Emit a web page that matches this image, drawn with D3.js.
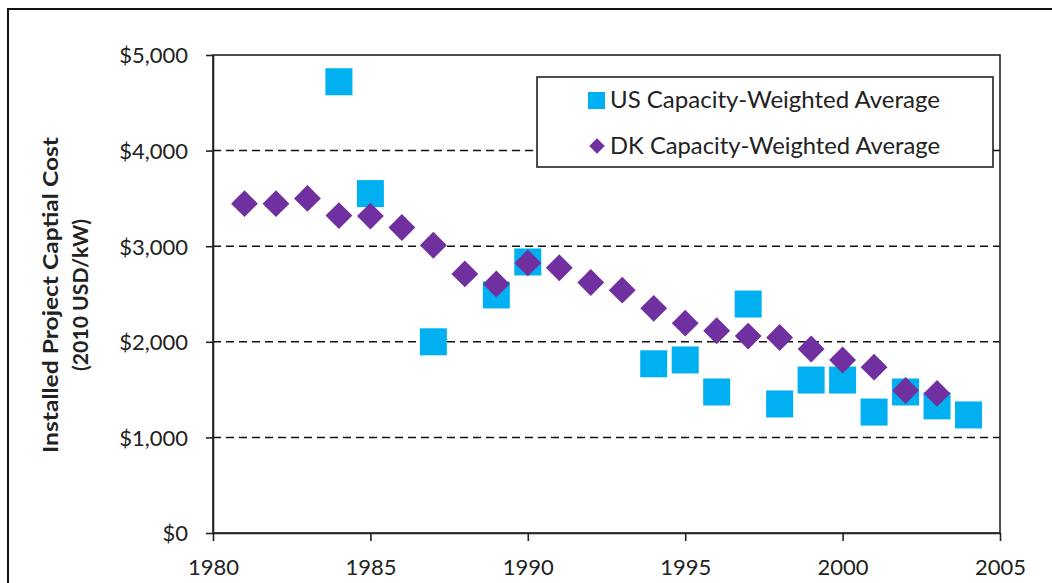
<!DOCTYPE html>
<html>
<head>
<meta charset="utf-8">
<script src="https://cdn.jsdelivr.net/npm/d3@7"></script>
<style>
  body { margin: 0; background: #fff; }
  text { font-family: Lato, "Open Sans", sans-serif; fill: #222; }
</style>
</head>
<body>
<svg width="1052" height="583"></svg>
<script>
// data
var usYears = [1984, 1985, 1987, 1989, 1990, 1994, 1995, 1996, 1997, 1998, 1999, 2000, 2001, 2002, 2003, 2004];
var usCost  = [4720, 3550, 2000, 2490, 2835, 1770, 1810, 1475, 2395, 1350, 1600, 1600, 1265, 1475, 1330, 1235];
var dkYears = [1981, 1982, 1983, 1984, 1985, 1986, 1987, 1988, 1989, 1990, 1991, 1992, 1993, 1994, 1995, 1996, 1997, 1998, 1999, 2000, 2001, 2002, 2003];
var dkCost  = [3445, 3445, 3500, 3320, 3315, 3195, 3010, 2710, 2605, 2825, 2775, 2620, 2540, 2350, 2195, 2115, 2060, 2045, 1925, 1810, 1735, 1490, 1460];
var yTicks = [0, 1000, 2000, 3000, 4000, 5000];
var xTicks = [1980, 1985, 1990, 1995, 2000, 2005];
var legendLabels = ["US Capacity-Weighted Average", "DK Capacity-Weighted Average"];

var usColor = "#00b0f0";
var dkColor = "#7030a0";

var svg = d3.select("svg");

// outer chart border (runs off the right/bottom of the picture)
svg.append("rect")
  .attr("x", 8).attr("y", 9)
  .attr("width", 1100).attr("height", 600)
  .attr("fill", "none").attr("stroke", "#111").attr("stroke-width", 2);

var pLeft = 213, pRight = 1000, pTop = 55, pBottom = 533;

var x = d3.scaleLinear().domain([1980, 2005]).range([pLeft, pRight]);
var y = d3.scaleLinear().domain([0, 5000]).range([pBottom, pTop]);

// dashed gridlines
svg.append("g")
  .selectAll("line")
  .data(yTicks.filter(d => d > 0 && d < 5000))
  .enter().append("line")
  .attr("x1", pLeft).attr("x2", pRight)
  .attr("y1", d => y(d)).attr("y2", d => y(d))
  .attr("stroke", "#111")
  .attr("stroke-width", 1.5)
  .attr("stroke-dasharray", "8,5");

// plot frame
svg.append("rect")
  .attr("x", pLeft).attr("y", pTop)
  .attr("width", pRight - pLeft).attr("height", pBottom - pTop)
  .attr("fill", "none").attr("stroke", "#222").attr("stroke-width", 1.6);

var yAxis = svg.append("g")
  .attr("transform", "translate(" + pLeft + ",0)")
  .call(d3.axisLeft(y).tickValues(yTicks).tickSize(7).tickSizeOuter(0)
    .tickFormat(d => "$" + d3.format(",")(d)));

var xAxis = svg.append("g")
  .attr("transform", "translate(0," + pBottom + ")")
  .call(d3.axisBottom(x).tickValues(xTicks).tickSize(8).tickSizeOuter(0)
    .tickFormat(d3.format("d")));

[xAxis, yAxis].forEach(function(a) {
  a.select(".domain").attr("stroke", "#222").attr("stroke-width", 1.6);
  a.selectAll(".tick line").attr("stroke", "#222").attr("stroke-width", 1.6);
  a.selectAll(".tick text")
    .attr("fill", "#222")
    .style("font-size", "22px")
    .style("font-family", "Lato, sans-serif");
});
yAxis.selectAll(".tick text").attr("x", -25).attr("dy", "0.36em");
xAxis.selectAll(".tick text").attr("y", 26).attr("dy", "0.71em");

// y axis title
var yTitle = svg.append("text")
  .attr("transform", "translate(58,295) rotate(-90)")
  .attr("text-anchor", "middle")
  .style("font-weight", "bold")
  .style("font-size", "21px");
yTitle.append("tspan").attr("x", 0).attr("dy", 0)
  .attr("textLength", 316).attr("lengthAdjust", "spacingAndGlyphs")
  .text("Installed Project Captial Cost");
yTitle.append("tspan").attr("x", 0).attr("dy", 30)
  .attr("textLength", 152).attr("lengthAdjust", "spacingAndGlyphs")
  .text("(2010 USD/kW)");

// markers
var sq = 27;
svg.append("g")
  .selectAll("rect")
  .data(usYears.map((d, i) => ({ year: d, cost: usCost[i] })))
  .enter().append("rect")
  .attr("x", d => x(d.year) - sq / 2)
  .attr("y", d => y(d.cost) - sq / 2)
  .attr("width", sq).attr("height", sq)
  .attr("fill", usColor);

var diamond = d3.symbol().type(d3.symbolSquare).size(19 * 19);
svg.append("g")
  .selectAll("path")
  .data(dkYears.map((d, i) => ({ year: d, cost: dkCost[i] })))
  .enter().append("path")
  .attr("d", diamond)
  .attr("transform", d => "translate(" + x(d.year) + "," + y(d.cost) + ") rotate(45)")
  .attr("fill", dkColor);

// legend
var legend = svg.append("g");
legend.append("rect")
  .attr("x", 537).attr("y", 77)
  .attr("width", 456).attr("height", 90)
  .attr("fill", "#fff").attr("stroke", "#222").attr("stroke-width", 1.6);

legend.append("rect")
  .attr("x", 588).attr("y", 92)
  .attr("width", 17).attr("height", 17)
  .attr("fill", usColor);
legend.append("path")
  .attr("d", d3.symbol().type(d3.symbolSquare).size(11 * 11))
  .attr("transform", "translate(597,146) rotate(45)")
  .attr("fill", dkColor);

legend.selectAll("text.lbl")
  .data(legendLabels)
  .enter().append("text")
  .attr("class", "lbl")
  .attr("x", 610)
  .attr("y", (d, i) => 100 + i * 46)
  .attr("dy", "0.36em")
  .attr("textLength", 330)
  .attr("lengthAdjust", "spacingAndGlyphs")
  .style("font-size", "23px")
  .text(d => d);
</script>
</body>
</html>
